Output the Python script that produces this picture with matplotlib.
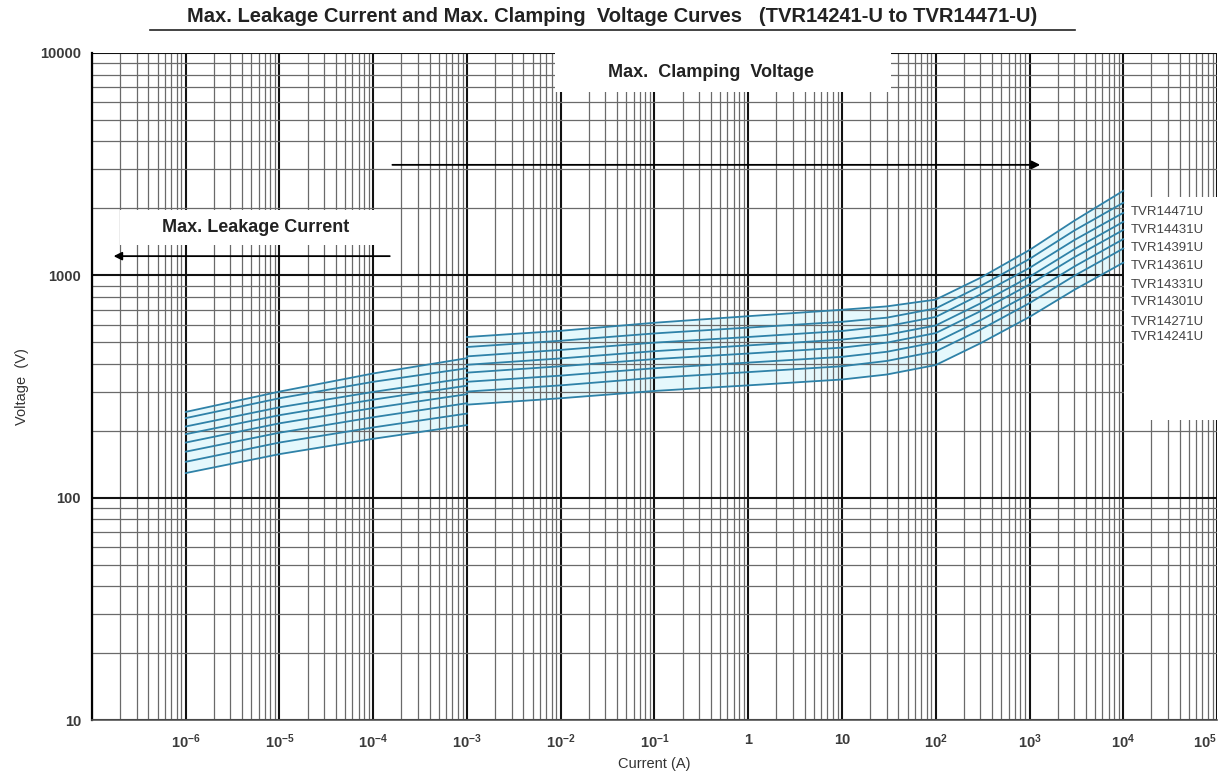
import matplotlib.pyplot as plt
from matplotlib.ticker import FixedLocator, LogLocator, NullFormatter
from matplotlib.patches import Rectangle
from matplotlib.lines import Line2D

plt.rcParams['font.family'] = ['Liberation Sans', 'DejaVu Sans']
plt.rcParams['mathtext.fontset'] = 'custom'
plt.rcParams['mathtext.rm'] = 'Liberation Sans'
plt.rcParams['mathtext.bf'] = 'Liberation Sans:bold'

# models, lowest curve first
models = ["TVR14241U", "TVR14271U", "TVR14301U", "TVR14331U",
          "TVR14361U", "TVR14391U", "TVR14431U", "TVR14471U"]

# max. leakage current part (A -> V)
leak_current = [1e-6, 1e-5, 1e-4, 1e-3]
leak_241 = [129, 157, 184, 212]
leak_271 = [145, 177, 207, 239]
leak_301 = [161, 196, 230, 266]
leak_331 = [177, 216, 253, 292]
leak_361 = [193, 235, 276, 319]
leak_391 = [209, 255, 299, 345]
leak_431 = [228, 280, 332, 382]
leak_471 = [243, 300, 362, 424]

# max. clamping voltage part (A -> V)
clamp_current = [1e-3, 1e-2, 1e-1, 1, 10, 30, 100, 300, 1000, 3000, 1e4]
clamp_241 = [262, 280, 302, 320, 340, 358, 395, 495, 650, 860, 1140]
clamp_271 = [300, 320, 346, 367, 390, 412, 455, 570, 750, 995, 1320]
clamp_301 = [332, 354, 382, 405, 430, 453, 500, 628, 825, 1095, 1455]
clamp_331 = [365, 390, 420, 445, 473, 498, 550, 690, 910, 1205, 1600]
clamp_361 = [396, 423, 456, 484, 514, 540, 595, 748, 985, 1310, 1740]
clamp_391 = [432, 462, 498, 528, 562, 590, 650, 820, 1080, 1440, 1910]
clamp_431 = [476, 508, 548, 582, 618, 645, 710, 895, 1185, 1590, 2120]
clamp_471 = [528, 563, 612, 655, 700, 725, 778, 975, 1300, 1760, 2400]

leak_all = [leak_241, leak_271, leak_301, leak_331, leak_361, leak_391, leak_431, leak_471]
clamp_all = [clamp_241, clamp_271, clamp_301, clamp_331, clamp_361, clamp_391, clamp_431, clamp_471]

# tick labels
x_decades = [1e-7, 1e-6, 1e-5, 1e-4, 1e-3, 1e-2, 1e-1, 1, 10, 1e2, 1e3, 1e4, 1e5]
x_labels = ["", r"$\mathbf{10^{-6}}$", r"$\mathbf{10^{-5}}$", r"$\mathbf{10^{-4}}$",
            r"$\mathbf{10^{-3}}$", r"$\mathbf{10^{-2}}$", r"$\mathbf{10^{-1}}$", "1", "10",
            r"$\mathbf{10^{2}}$", r"$\mathbf{10^{3}}$", r"$\mathbf{10^{4}}$", r"$\mathbf{10^{5}}$"]
y_decades = [10, 100, 1000, 10000]
y_labels = ["10", "100", "1000", "10000"]

# where the model names sit on the right (voltage)
label_y = [528, 617, 759, 906, 1102, 1328, 1600, 1927]

W, H = 1222, 771
fig = plt.figure(figsize=(W / 100, H / 100), dpi=100)
ax = fig.add_axes([92 / W, 1 - 720 / H, (1217 - 92) / W, (720 - 53) / H])
ax.set_xscale('log')
ax.set_yscale('log')
ax.set_xlim(1e-7, 1e5)
ax.set_ylim(10, 10000)

# grid
ax.xaxis.set_major_locator(FixedLocator(x_decades))
ax.yaxis.set_major_locator(FixedLocator(y_decades))
ax.xaxis.set_minor_locator(LogLocator(base=10, subs=range(2, 10), numticks=50))
ax.yaxis.set_minor_locator(LogLocator(base=10, subs=range(2, 10), numticks=50))
ax.xaxis.set_minor_formatter(NullFormatter())
ax.yaxis.set_minor_formatter(NullFormatter())
ax.grid(which='major', color='#111111', linewidth=1.5)
ax.grid(which='minor', color='#6a6a6a', linewidth=0.9)
ax.tick_params(which='both', length=0)
ax.set_xticklabels(x_labels, fontsize=10.5, fontweight='bold', color='#3a3a3a')
ax.set_yticklabels(y_labels, fontsize=10.5, fontweight='bold', color='#3a3a3a')
ax.get_xticklabels()[-1].set_horizontalalignment('right')
ax.tick_params(axis='x', pad=9)
ax.tick_params(axis='y', pad=8)
for side in ['top', 'right']:
    ax.spines[side].set_visible(False)
ax.spines['left'].set_linewidth(1.6)
ax.spines['bottom'].set_linewidth(1.2)
ax.spines['bottom'].set_color('#555555')

# light cyan band behind the curves
ax.fill_between(leak_current, leak_all[0], leak_all[-1], color='#c6f0fa', alpha=0.45,
                linewidth=0, zorder=1)
ax.fill_between(clamp_current, clamp_all[0], clamp_all[-1], color='#c6f0fa', alpha=0.45,
                linewidth=0, zorder=1)

for lv, cv in zip(leak_all, clamp_all):
    ax.plot(leak_current, lv, color='#2f82a8', linewidth=1.3, zorder=3)
    ax.plot(clamp_current, cv, color='#2f82a8', linewidth=1.3, zorder=3)

# white boxes over the grid
ax.add_patch(Rectangle((8.7e-3, 6680), 33 - 8.7e-3, 10000 - 6680, facecolor='white',
                       edgecolor='none', zorder=2))
ax.add_patch(Rectangle((1.97e-7, 1371), 1.5e-4 - 1.97e-7, 1968 - 1371, facecolor='white',
                       edgecolor='none', zorder=2))
ax.add_patch(Rectangle((1.02e4, 224), 1.2e5 - 1.02e4, 2255 - 224, facecolor='white',
                       edgecolor='none', zorder=2, clip_on=False))

ax.text(0.4, 8150, "Max.  Clamping  Voltage", fontsize=13, fontweight='bold',
        ha='center', va='center', color='#222222', zorder=4)
ax.text(5.5e-6, 1640, "Max. Leakage Current", fontsize=13, fontweight='bold',
        ha='center', va='center', color='#222222', zorder=4)

# arrows
ax.annotate("", xy=(1.3e3, 3140), xytext=(1.6e-4, 3140),
            arrowprops=dict(arrowstyle='-|>', color='black', lw=1.3,
                            mutation_scale=12, shrinkA=0, shrinkB=0), zorder=4)
ax.annotate("", xy=(1.7e-7, 1220), xytext=(1.5e-4, 1220),
            arrowprops=dict(arrowstyle='-|>', color='black', lw=1.3,
                            mutation_scale=12, shrinkA=0, shrinkB=0), zorder=4)

for name, yv in zip(models, label_y):
    ax.text(1.2e4, yv, name, fontsize=9.5, color='#444444', ha='left', va='center',
            zorder=4, clip_on=False)

ax.set_xlabel("Current (A)", fontsize=10.5, color='#333333', labelpad=4)
ax.set_ylabel("Voltage  (V)", fontsize=10.5, color='#333333', labelpad=8)

fig.text(612 / W, 1 - 17 / H,
         "Max. Leakage Current and Max. Clamping  Voltage Curves   (TVR14241-U to TVR14471-U)",
         fontsize=14.5, fontweight='bold', ha='center', va='center', color='#222222')
fig.add_artist(Line2D([150 / W, 1075 / W], [1 - 30 / H, 1 - 30 / H], color='#222222',
                      linewidth=1.2, transform=fig.transFigure))

fig.savefig("out.png", dpi=100)
